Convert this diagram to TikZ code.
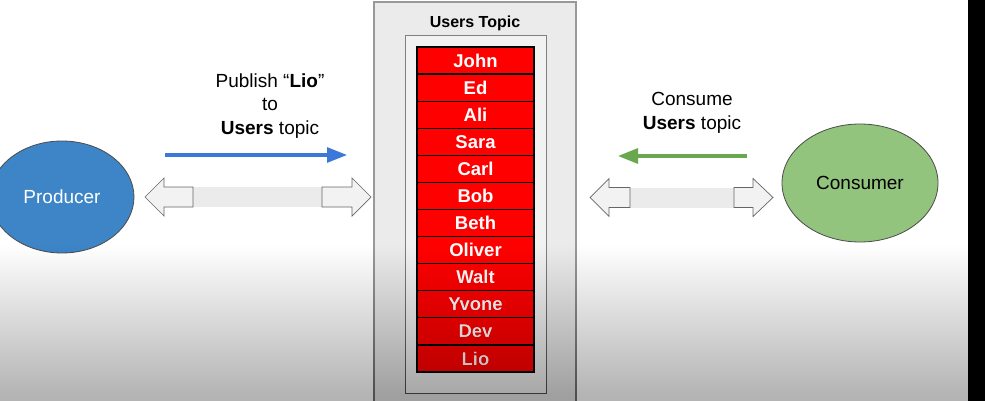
\documentclass[tikz,border=0pt]{standalone}
\usepackage{fontspec}
\setmainfont{Liberation Sans}
\usetikzlibrary{arrows.meta,positioning,shapes.geometric}
\definecolor{prodblue}{HTML}{3D85C6}
\definecolor{consgreen}{HTML}{93C47D}
\definecolor{pubblue}{HTML}{3C78D8}
\definecolor{subgreen}{HTML}{6AA84F}
\definecolor{topicred}{HTML}{FF0000}
\tikzset{
  client/.style={ellipse, draw=black!70, line width=0.8pt, inner sep=0pt, font=\fontsize{19}{23}\selectfont},
  row/.style={draw=black, line width=1.3pt, fill=topicred, text=white, inner sep=0pt,
    minimum width=117pt, minimum height=27.08pt, font=\bfseries\fontsize{18.5}{22}\selectfont},
  headbox/.style={draw=black!60, line width=0.7pt, fill=black!5},
  note/.style={align=center, font=\fontsize{19}{23.5}\selectfont},
}
\def\biarrow(#1:#2:#3:#4:#5:#6:#7){%
  \fill[black!8] (#3,#7-10) rectangle (#4,#7+10);
  \draw[headbox] (#1,#7) -- (#2,#7-19) -- (#2,#7-10) -- (#3,#7-10) -- (#3,#7+10) -- (#2,#7+10) -- (#2,#7+19) -- cycle;
  \draw[headbox] (#6,#7) -- (#5,#7-19) -- (#5,#7-10) -- (#4,#7-10) -- (#4,#7+10) -- (#5,#7+10) -- (#5,#7+19) -- cycle;}

\begin{document}
\begin{tikzpicture}[x=1pt, y=-1pt]
	%%%%% START %%%%%
	\useasboundingbox (0,0) rectangle (985,401);
	\clip (0,0) rectangle (985,401);
	\fill[white] (0,0) rectangle (985,401);
	
	% topic
	\draw[line width=1.5pt, draw=black!40, fill=black!8] (374,2) rectangle (576,420);
	\node[font=\bfseries\fontsize{16}{19}\selectfont] (title) at (475,23) {Users Topic};
	\draw[line width=1pt, draw=black!50, fill=black!5] (405,36) rectangle (546,393);
	\foreach \name [count=\i] in {John,Ed,Ali,Sara,Carl,Bob,Beth,Oliver,Walt,Yvone,Dev,Lio}
		\node[row] (row\i) at (475.5, {47+27.08*(\i-0.5)}) {\name};
	
	% clients
	\node[client, fill=prodblue, text=white, minimum width=144pt, minimum height=112pt] (producer) at (62,197) {Producer};
	\node[client, fill=consgreen, minimum width=156pt, minimum height=118pt] (consumer) at (860,183) {Consumer};
	
	\biarrow(145:164:193:322:352:371:197)
	\biarrow(590:609:630:734:753:773:197.5)
	
	% publish / consume
	\node[note] (pubtext) at (270,106) {Publish “\textbf{Lio}”\\to\\\textbf{Users} topic};
	\node[note] (subtext) at (692,113) {Consume\\\textbf{Users} topic};
	\coordinate (pubstart) at (165,155);
	\coordinate (pubend) at (347,155);
	\coordinate (substart) at (747,156);
	\coordinate (subend) at (618,156);
	\draw[pubblue, line width=3pt, -{Triangle[length=20pt,width=15pt]}] (pubstart) -- (pubend);
	\draw[subgreen, line width=3pt, -{Triangle[length=20pt,width=15pt]}] (substart) -- (subend);
	
	% fade at the bottom
	\foreach \k in {0,...,74}
		\fill[black, fill opacity=0.0029] (0,{246+2*\k}) rectangle (968,401);
	
	\fill[black] (968,0) rectangle (985,401);
	%%%%% END %%%%%
\end{tikzpicture}
\end{document}
